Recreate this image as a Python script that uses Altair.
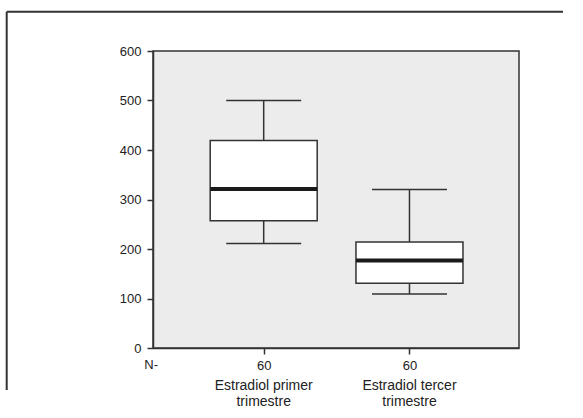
import altair as alt
import pandas as pd

categories = ["Estradiol primer\ntrimestre", "Estradiol tercer\ntrimestre"]
positions = [1, 2]
n_values = ["60", "60"]
mins = [211, 109]
q1s = [257, 131]
medians = [321, 177]
q3s = [419, 214]
maxs = [500, 320]
y_ticks = [0, 100, 200, 300, 400, 500, 600]

df = pd.DataFrame({
    "cat": categories, "pos": positions, "n": n_values,
    "min": mins, "q1": q1s, "median": medians, "q3": q3s, "max": maxs,
})

W, H = 366, 297
PL, PT = 153, 51
TOTAL_H = 410
DARK = "#333333"
FONT = "Liberation Sans"

xs = alt.Scale(domain=[0.275, 2.717], nice=False, zero=False)
ys = alt.Scale(domain=[0, 600], nice=False)

x_axis = alt.Axis(values=positions, labelExpr="'60'", title=None, grid=False,
                  tickSize=6, labelPadding=5, labelFontSize=13, labelColor="#222",
                  domainColor=DARK, tickColor=DARK, labelFont=FONT)
y_axis = alt.Axis(values=y_ticks, title=None, grid=False, tickSize=6, labelPadding=6,
                  labelFontSize=13, labelColor="#222", domainColor=DARK,
                  tickColor=DARK, labelFont=FONT)

base = alt.Chart(df)

lower = base.mark_rule(color=DARK, strokeWidth=1.5).encode(
    x=alt.X("pos:Q", scale=xs, axis=x_axis),
    y=alt.Y("min:Q", scale=ys, axis=y_axis),
    y2="q1:Q",
)
upper = base.mark_rule(color=DARK, strokeWidth=1.5).encode(
    x=alt.X("pos:Q", scale=xs), y=alt.Y("q3:Q", scale=ys), y2="max:Q"
)
cap_lo = base.mark_tick(orient="horizontal", size=75, thickness=1.5, color=DARK, opacity=1).encode(
    x=alt.X("pos:Q", scale=xs), y=alt.Y("min:Q", scale=ys)
)
cap_hi = base.mark_tick(orient="horizontal", size=75, thickness=1.5, color=DARK, opacity=1).encode(
    x=alt.X("pos:Q", scale=xs), y=alt.Y("max:Q", scale=ys)
)
box = base.mark_bar(size=107, fill="white", stroke=DARK, strokeWidth=1.5).encode(
    x=alt.X("pos:Q", scale=xs), y=alt.Y("q1:Q", scale=ys), y2="q3:Q"
)
med = base.mark_tick(orient="horizontal", size=107, thickness=4, color="#1a1a1a", opacity=1).encode(
    x=alt.X("pos:Q", scale=xs), y=alt.Y("median:Q", scale=ys)
)
labels = base.mark_text(font=FONT, fontSize=14, color="#222", lineBreak="\n",
                        lineHeight=16, baseline="middle", align="center").encode(
    x=alt.X("pos:Q", scale=xs), y=alt.value(H + 38), text="cat:N"
)
nlabel = alt.Chart(pd.DataFrame({"t": ["N-"]})).mark_text(
    font=FONT, fontSize=13, color="#222", align="right", baseline="middle"
).encode(x=alt.value(5), y=alt.value(H + 17), text="t:N")

frame_top = alt.Chart(pd.DataFrame({"a": [0]})).mark_rule(color=DARK, strokeWidth=2).encode(
    x=alt.value(6.7 - PL), x2=alt.value(583 - PL - 20), y=alt.value(11.8 - PT)
)
frame_left = alt.Chart(pd.DataFrame({"a": [0]})).mark_rule(color=DARK, strokeWidth=2).encode(
    x=alt.value(6.7 - PL), y=alt.value(11.8 - PT), y2=alt.value(TOTAL_H - PT - 20)
)

chart = alt.layer(lower, upper, cap_lo, cap_hi, box, med, labels, nlabel, frame_top, frame_left).properties(
    width=W, height=H,
    autosize=alt.AutoSizeParams(type="none"),
    padding={"left": PL, "top": PT, "right": 583 - PL - W, "bottom": TOTAL_H - PT - H},
    background="white",
).configure_view(
    fill="#ececec", stroke=DARK, strokeWidth=1.5
).configure_axis(domainWidth=1.5, tickWidth=1.5)

chart.save("out.html", embed_options={"renderer": "svg", "actions": False})
